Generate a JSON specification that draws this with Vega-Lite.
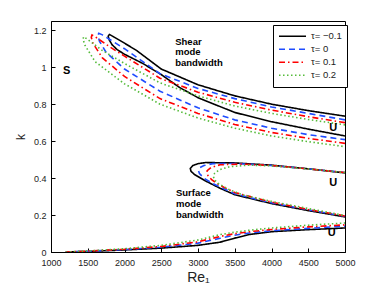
{
  "$schema": "https://vega.github.io/schema/vega-lite/v6.json",
  "width": 294,
  "height": 231,
  "autosize": "none",
  "padding": {"left": 51, "top": 21, "right": 37, "bottom": 35},
  "background": "white",
  "config": {
    "font": "Liberation Sans",
    "view": {"stroke": "black", "strokeWidth": 1},
    "axis": {"grid": false, "domainColor": "black", "tickColor": "black", "labelColor": "#222", "labelFontSize": 9, "titleFontWeight": "normal", "titleColor": "#222"}
  },
  "layer": [
    {
      "data": {"values": [
        {"t":"τ= −0.1","p":"sh","Re":5000,"k":0.735},{"t":"τ= −0.1","p":"sh","Re":4500,"k":0.765},{"t":"τ= −0.1","p":"sh","Re":4000,"k":0.8},{"t":"τ= −0.1","p":"sh","Re":3500,"k":0.845},{"t":"τ= −0.1","p":"sh","Re":3000,"k":0.905},{"t":"τ= −0.1","p":"sh","Re":2500,"k":0.99},{"t":"τ= −0.1","p":"sh","Re":2166,"k":1.09},{"t":"τ= −0.1","p":"sh","Re":2000,"k":1.13},{"t":"τ= −0.1","p":"sh","Re":1850,"k":1.165},{"t":"τ= −0.1","p":"sh","Re":1795,"k":1.177},{"t":"τ= −0.1","p":"sh","Re":1778,"k":1.168},{"t":"τ= −0.1","p":"sh","Re":1792,"k":1.148},{"t":"τ= −0.1","p":"sh","Re":1830,"k":1.122},{"t":"τ= −0.1","p":"sh","Re":1900,"k":1.095},{"t":"τ= −0.1","p":"sh","Re":2000,"k":1.07},{"t":"τ= −0.1","p":"sh","Re":2250,"k":1.02},{"t":"τ= −0.1","p":"sh","Re":2500,"k":0.96},{"t":"τ= −0.1","p":"sh","Re":2750,"k":0.89},{"t":"τ= −0.1","p":"sh","Re":3000,"k":0.835},{"t":"τ= −0.1","p":"sh","Re":3500,"k":0.755},{"t":"τ= −0.1","p":"sh","Re":4000,"k":0.705},{"t":"τ= −0.1","p":"sh","Re":4500,"k":0.665},{"t":"τ= −0.1","p":"sh","Re":5000,"k":0.628},

        {"t":"τ= 0","p":"sh","Re":5000,"k":0.715},{"t":"τ= 0","p":"sh","Re":4500,"k":0.75},{"t":"τ= 0","p":"sh","Re":4000,"k":0.785},{"t":"τ= 0","p":"sh","Re":3500,"k":0.83},{"t":"τ= 0","p":"sh","Re":3000,"k":0.885},{"t":"τ= 0","p":"sh","Re":2483,"k":0.965},{"t":"τ= 0","p":"sh","Re":2000,"k":1.1},{"t":"τ= 0","p":"sh","Re":1800,"k":1.15},{"t":"τ= 0","p":"sh","Re":1700,"k":1.175},{"t":"τ= 0","p":"sh","Re":1650,"k":1.183},{"t":"τ= 0","p":"sh","Re":1638,"k":1.172},{"t":"τ= 0","p":"sh","Re":1660,"k":1.14},{"t":"τ= 0","p":"sh","Re":1750,"k":1.08},{"t":"τ= 0","p":"sh","Re":2000,"k":0.99},{"t":"τ= 0","p":"sh","Re":2483,"k":0.87},{"t":"τ= 0","p":"sh","Re":3000,"k":0.78},{"t":"τ= 0","p":"sh","Re":3500,"k":0.715},{"t":"τ= 0","p":"sh","Re":4000,"k":0.67},{"t":"τ= 0","p":"sh","Re":4500,"k":0.635},{"t":"τ= 0","p":"sh","Re":5000,"k":0.608},

        {"t":"τ= 0.1","p":"sh","Re":5000,"k":0.7},{"t":"τ= 0.1","p":"sh","Re":4500,"k":0.732},{"t":"τ= 0.1","p":"sh","Re":4000,"k":0.768},{"t":"τ= 0.1","p":"sh","Re":3500,"k":0.81},{"t":"τ= 0.1","p":"sh","Re":3000,"k":0.865},{"t":"τ= 0.1","p":"sh","Re":2483,"k":0.94},{"t":"τ= 0.1","p":"sh","Re":2000,"k":1.06},{"t":"τ= 0.1","p":"sh","Re":1800,"k":1.11},{"t":"τ= 0.1","p":"sh","Re":1600,"k":1.165},{"t":"τ= 0.1","p":"sh","Re":1558,"k":1.175},{"t":"τ= 0.1","p":"sh","Re":1548,"k":1.162},{"t":"τ= 0.1","p":"sh","Re":1570,"k":1.13},{"t":"τ= 0.1","p":"sh","Re":1700,"k":1.05},{"t":"τ= 0.1","p":"sh","Re":2000,"k":0.95},{"t":"τ= 0.1","p":"sh","Re":2483,"k":0.83},{"t":"τ= 0.1","p":"sh","Re":3000,"k":0.75},{"t":"τ= 0.1","p":"sh","Re":3500,"k":0.69},{"t":"τ= 0.1","p":"sh","Re":4000,"k":0.647},{"t":"τ= 0.1","p":"sh","Re":4500,"k":0.615},{"t":"τ= 0.1","p":"sh","Re":5000,"k":0.588},

        {"t":"τ= 0.2","p":"sh","Re":5000,"k":0.688},{"t":"τ= 0.2","p":"sh","Re":4500,"k":0.717},{"t":"τ= 0.2","p":"sh","Re":4000,"k":0.75},{"t":"τ= 0.2","p":"sh","Re":3500,"k":0.79},{"t":"τ= 0.2","p":"sh","Re":3000,"k":0.845},{"t":"τ= 0.2","p":"sh","Re":2483,"k":0.915},{"t":"τ= 0.2","p":"sh","Re":2000,"k":1.02},{"t":"τ= 0.2","p":"sh","Re":1700,"k":1.09},{"t":"τ= 0.2","p":"sh","Re":1500,"k":1.15},{"t":"τ= 0.2","p":"sh","Re":1445,"k":1.165},{"t":"τ= 0.2","p":"sh","Re":1436,"k":1.152},{"t":"τ= 0.2","p":"sh","Re":1460,"k":1.12},{"t":"τ= 0.2","p":"sh","Re":1600,"k":1.03},{"t":"τ= 0.2","p":"sh","Re":2000,"k":0.91},{"t":"τ= 0.2","p":"sh","Re":2483,"k":0.8},{"t":"τ= 0.2","p":"sh","Re":3000,"k":0.725},{"t":"τ= 0.2","p":"sh","Re":3500,"k":0.67},{"t":"τ= 0.2","p":"sh","Re":4000,"k":0.628},{"t":"τ= 0.2","p":"sh","Re":4500,"k":0.597},{"t":"τ= 0.2","p":"sh","Re":5000,"k":0.57},

        {"t":"τ= −0.1","p":"su","Re":5000,"k":0.428},{"t":"τ= −0.1","p":"su","Re":4500,"k":0.45},{"t":"τ= −0.1","p":"su","Re":4000,"k":0.47},{"t":"τ= −0.1","p":"su","Re":3500,"k":0.482},{"t":"τ= −0.1","p":"su","Re":3100,"k":0.484},{"t":"τ= −0.1","p":"su","Re":3000,"k":0.478},{"t":"τ= −0.1","p":"su","Re":2930,"k":0.468},{"t":"τ= −0.1","p":"su","Re":2895,"k":0.452},{"t":"τ= −0.1","p":"su","Re":2905,"k":0.437},{"t":"τ= −0.1","p":"su","Re":2950,"k":0.42},{"t":"τ= −0.1","p":"su","Re":3100,"k":0.385},{"t":"τ= −0.1","p":"su","Re":3300,"k":0.345},{"t":"τ= −0.1","p":"su","Re":3500,"k":0.31},{"t":"τ= −0.1","p":"su","Re":4000,"k":0.262},{"t":"τ= −0.1","p":"su","Re":4500,"k":0.224},{"t":"τ= −0.1","p":"su","Re":5000,"k":0.19},

        {"t":"τ= 0","p":"su","Re":5000,"k":0.43},{"t":"τ= 0","p":"su","Re":4500,"k":0.45},{"t":"τ= 0","p":"su","Re":4000,"k":0.468},{"t":"τ= 0","p":"su","Re":3500,"k":0.479},{"t":"τ= 0","p":"su","Re":3200,"k":0.478},{"t":"τ= 0","p":"su","Re":3080,"k":0.468},{"t":"τ= 0","p":"su","Re":3020,"k":0.455},{"t":"τ= 0","p":"su","Re":3005,"k":0.442},{"t":"τ= 0","p":"su","Re":3020,"k":0.425},{"t":"τ= 0","p":"su","Re":3080,"k":0.4},{"t":"τ= 0","p":"su","Re":3200,"k":0.37},{"t":"τ= 0","p":"su","Re":3500,"k":0.315},{"t":"τ= 0","p":"su","Re":4000,"k":0.266},{"t":"τ= 0","p":"su","Re":4500,"k":0.228},{"t":"τ= 0","p":"su","Re":5000,"k":0.193},

        {"t":"τ= 0.1","p":"su","Re":5000,"k":0.43},{"t":"τ= 0.1","p":"su","Re":4500,"k":0.45},{"t":"τ= 0.1","p":"su","Re":4000,"k":0.468},{"t":"τ= 0.1","p":"su","Re":3600,"k":0.476},{"t":"τ= 0.1","p":"su","Re":3300,"k":0.472},{"t":"τ= 0.1","p":"su","Re":3180,"k":0.458},{"t":"τ= 0.1","p":"su","Re":3125,"k":0.44},{"t":"τ= 0.1","p":"su","Re":3120,"k":0.428},{"t":"τ= 0.1","p":"su","Re":3140,"k":0.41},{"t":"τ= 0.1","p":"su","Re":3190,"k":0.39},{"t":"τ= 0.1","p":"su","Re":3300,"k":0.36},{"t":"τ= 0.1","p":"su","Re":3500,"k":0.322},{"t":"τ= 0.1","p":"su","Re":4000,"k":0.27},{"t":"τ= 0.1","p":"su","Re":4500,"k":0.23},{"t":"τ= 0.1","p":"su","Re":5000,"k":0.195},

        {"t":"τ= 0.2","p":"su","Re":5000,"k":0.43},{"t":"τ= 0.2","p":"su","Re":4500,"k":0.45},{"t":"τ= 0.2","p":"su","Re":4000,"k":0.466},{"t":"τ= 0.2","p":"su","Re":3700,"k":0.47},{"t":"τ= 0.2","p":"su","Re":3435,"k":0.462},{"t":"τ= 0.2","p":"su","Re":3290,"k":0.445},{"t":"τ= 0.2","p":"su","Re":3225,"k":0.425},{"t":"τ= 0.2","p":"su","Re":3210,"k":0.408},{"t":"τ= 0.2","p":"su","Re":3225,"k":0.39},{"t":"τ= 0.2","p":"su","Re":3270,"k":0.372},{"t":"τ= 0.2","p":"su","Re":3400,"k":0.342},{"t":"τ= 0.2","p":"su","Re":3600,"k":0.31},{"t":"τ= 0.2","p":"su","Re":4000,"k":0.274},{"t":"τ= 0.2","p":"su","Re":4500,"k":0.235},{"t":"τ= 0.2","p":"su","Re":5000,"k":0.197},

        {"t":"τ= −0.1","p":"bo","Re":1200,"k":0.0},{"t":"τ= −0.1","p":"bo","Re":1500,"k":0.003},{"t":"τ= −0.1","p":"bo","Re":2000,"k":0.011},{"t":"τ= −0.1","p":"bo","Re":2500,"k":0.021},{"t":"τ= −0.1","p":"bo","Re":3000,"k":0.036},{"t":"τ= −0.1","p":"bo","Re":3300,"k":0.053},{"t":"τ= −0.1","p":"bo","Re":3500,"k":0.075},{"t":"τ= −0.1","p":"bo","Re":3700,"k":0.095},{"t":"τ= −0.1","p":"bo","Re":4000,"k":0.11},{"t":"τ= −0.1","p":"bo","Re":4500,"k":0.121},{"t":"τ= −0.1","p":"bo","Re":5000,"k":0.13},

        {"t":"τ= 0","p":"bo","Re":1200,"k":0.0},{"t":"τ= 0","p":"bo","Re":1500,"k":0.004},{"t":"τ= 0","p":"bo","Re":2000,"k":0.013},{"t":"τ= 0","p":"bo","Re":2500,"k":0.026},{"t":"τ= 0","p":"bo","Re":3000,"k":0.048},{"t":"τ= 0","p":"bo","Re":3300,"k":0.074},{"t":"τ= 0","p":"bo","Re":3500,"k":0.091},{"t":"τ= 0","p":"bo","Re":3700,"k":0.103},{"t":"τ= 0","p":"bo","Re":4000,"k":0.115},{"t":"τ= 0","p":"bo","Re":4500,"k":0.128},{"t":"τ= 0","p":"bo","Re":5000,"k":0.14},

        {"t":"τ= 0.1","p":"bo","Re":1200,"k":0.0},{"t":"τ= 0.1","p":"bo","Re":1500,"k":0.005},{"t":"τ= 0.1","p":"bo","Re":2000,"k":0.015},{"t":"τ= 0.1","p":"bo","Re":2500,"k":0.03},{"t":"τ= 0.1","p":"bo","Re":3000,"k":0.055},{"t":"τ= 0.1","p":"bo","Re":3300,"k":0.084},{"t":"τ= 0.1","p":"bo","Re":3500,"k":0.099},{"t":"τ= 0.1","p":"bo","Re":3700,"k":0.11},{"t":"τ= 0.1","p":"bo","Re":4000,"k":0.122},{"t":"τ= 0.1","p":"bo","Re":4500,"k":0.136},{"t":"τ= 0.1","p":"bo","Re":5000,"k":0.147},

        {"t":"τ= 0.2","p":"bo","Re":1200,"k":0.0},{"t":"τ= 0.2","p":"bo","Re":1500,"k":0.006},{"t":"τ= 0.2","p":"bo","Re":2000,"k":0.018},{"t":"τ= 0.2","p":"bo","Re":2500,"k":0.036},{"t":"τ= 0.2","p":"bo","Re":3000,"k":0.065},{"t":"τ= 0.2","p":"bo","Re":3300,"k":0.094},{"t":"τ= 0.2","p":"bo","Re":3500,"k":0.107},{"t":"τ= 0.2","p":"bo","Re":3700,"k":0.118},{"t":"τ= 0.2","p":"bo","Re":4000,"k":0.13},{"t":"τ= 0.2","p":"bo","Re":4500,"k":0.145},{"t":"τ= 0.2","p":"bo","Re":5000,"k":0.157}
      ]},
      "mark": {"type": "line", "strokeWidth": 1.6, "clip": true},
      "encoding": {
        "x": {"field": "Re", "type": "quantitative", "scale": {"domain": [1000, 5000], "nice": false},
              "axis": {"values": [1000,1500,2000,2500,3000,3500,4000,4500,5000], "tickCount": 50, "format": "d", "tickSize": -4, "labelPadding": 10, "labelOverlap": false, "labelBound": false, "labelFlush": false, "title": "Re₁", "titleFontSize": 14, "titlePadding": 3}},
        "y": {"field": "k", "type": "quantitative", "scale": {"domain": [0, 1.25], "nice": false},
              "axis": {"values": [0,0.2,0.4,0.6,0.8,1,1.2], "tickCount": 50, "labelExpr": "'' + datum.value", "tickSize": -4, "labelPadding": 9, "labelOverlap": false, "labelBound": false, "labelFlush": false, "title": "k", "titleFontSize": 12, "titlePadding": 6}},
        "color": {"field": "t", "type": "nominal",
                  "scale": {"domain": ["τ= −0.1","τ= 0","τ= 0.1","τ= 0.2"], "range": ["#000000","#1f4cff","#ff0000","#55bb3a"]},
                  "legend": {"title": null, "orient": "none", "legendX": 222, "legendY": 4, "strokeColor": "black", "fillColor": "white", "padding": 5, "symbolType": "stroke", "symbolSize": 729, "symbolStrokeWidth": 1.6, "labelFontSize": 9.5, "labelColor": "#222", "rowPadding": 0, "clipHeight": 12.5, "labelOffset": 4, "cornerRadius": 0}},
        "strokeDash": {"field": "t", "type": "nominal",
                  "scale": {"domain": ["τ= −0.1","τ= 0","τ= 0.1","τ= 0.2"], "range": [[1,0],[6,4],[6,3,1.5,3],[1.5,2.5]]}},
        "detail": {"field": "p"},
        "order": {"value": null}
      }
    },
    {
      "data": {"values": [
        {"lab":"S","Re":1213,"k":0.98},
        {"lab":"U","Re":4840,"k":0.67},
        {"lab":"U","Re":4840,"k":0.375},
        {"lab":"U","Re":4820,"k":0.101}
      ]},
      "mark": {"type": "text", "fontWeight": "bold", "fontSize": 11, "color": "black", "align": "center", "baseline": "middle"},
      "encoding": {
        "x": {"field": "Re", "type": "quantitative"},
        "y": {"field": "k", "type": "quantitative"},
        "text": {"field": "lab"}
      }
    },
    {
      "data": {"values": [
        {"lab":"Shear","Re":2690,"k":1.138},
        {"lab":"mode","Re":2690,"k":1.081},
        {"lab":"bandwidth","Re":2690,"k":1.025},
        {"lab":"Surface","Re":2700,"k":0.318},
        {"lab":"mode","Re":2700,"k":0.26},
        {"lab":"bandwidth","Re":2700,"k":0.2}
      ]},
      "mark": {"type": "text", "fontWeight": "bold", "fontSize": 9.5, "color": "black", "align": "left", "baseline": "middle"},
      "encoding": {
        "x": {"field": "Re", "type": "quantitative"},
        "y": {"field": "k", "type": "quantitative"},
        "text": {"field": "lab"}
      }
    }
  ]
}
